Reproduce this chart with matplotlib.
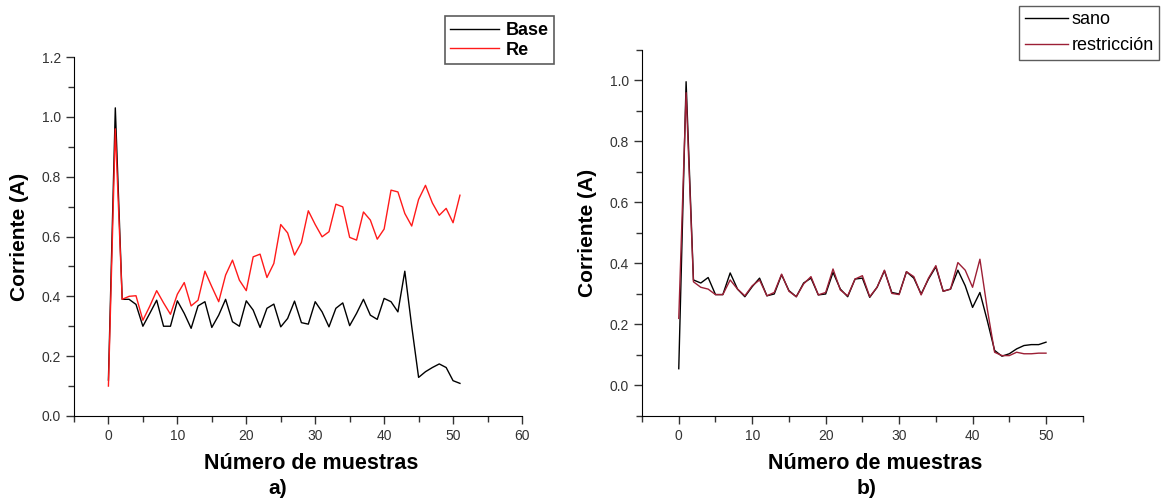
import matplotlib
matplotlib.use("Agg")
import matplotlib.pyplot as plt
from matplotlib.ticker import MultipleLocator

plt.rcParams["font.family"] = ["Liberation Sans", "DejaVu Sans"]

# Panel a) data
muestras_a = list(range(52))
base = [0.12, 1.03, 0.39, 0.39, 0.373, 0.30, 0.343, 0.387, 0.30, 0.30,
        0.385, 0.343, 0.293, 0.368, 0.382, 0.296, 0.337, 0.39, 0.315, 0.30,
        0.385, 0.354, 0.296, 0.36, 0.374, 0.298, 0.326, 0.384, 0.312, 0.307,
        0.382, 0.348, 0.298, 0.36, 0.378, 0.302, 0.343, 0.39, 0.337, 0.323,
        0.393, 0.382, 0.348, 0.484, 0.30, 0.129, 0.148, 0.162, 0.174, 0.162,
        0.118, 0.109]
re = [0.10, 0.96, 0.39, 0.40, 0.402, 0.32, 0.367, 0.419, 0.378, 0.34,
      0.407, 0.446, 0.368, 0.387, 0.484, 0.432, 0.382, 0.471, 0.521, 0.454,
      0.419, 0.532, 0.541, 0.463, 0.51, 0.64, 0.612, 0.538, 0.58, 0.686,
      0.64, 0.599, 0.616, 0.708, 0.699, 0.597, 0.588, 0.682, 0.655, 0.591,
      0.625, 0.755, 0.749, 0.677, 0.635, 0.724, 0.771, 0.712, 0.671, 0.694,
      0.646, 0.738]

# Panel b) data
muestras_b = list(range(51))
sano = [0.055, 0.996, 0.346, 0.336, 0.354, 0.298, 0.298, 0.369, 0.316, 0.291,
        0.324, 0.352, 0.294, 0.30, 0.363, 0.311, 0.291, 0.336, 0.352, 0.297,
        0.30, 0.371, 0.316, 0.291, 0.349, 0.352, 0.289, 0.322, 0.376, 0.305,
        0.30, 0.373, 0.352, 0.30, 0.349, 0.389, 0.309, 0.316, 0.378, 0.327,
        0.256, 0.305, 0.213, 0.115, 0.096, 0.104, 0.12, 0.131, 0.134, 0.134,
        0.142]
restriccion = [0.22, 0.96, 0.34, 0.322, 0.316, 0.298, 0.298, 0.346, 0.316, 0.294,
               0.327, 0.346, 0.294, 0.305, 0.365, 0.309, 0.291, 0.333, 0.357, 0.297,
               0.305, 0.382, 0.313, 0.294, 0.349, 0.36, 0.291, 0.322, 0.378, 0.302,
               0.298, 0.373, 0.357, 0.297, 0.352, 0.393, 0.309, 0.316, 0.403, 0.378,
               0.322, 0.414, 0.251, 0.109, 0.098, 0.098, 0.109, 0.104, 0.104, 0.106,
               0.106]

TICK_COLOR = "#333333"


def style_axes(ax):
    ax.spines["top"].set_visible(False)
    ax.spines["right"].set_visible(False)
    ax.tick_params(which="both", direction="out", labelsize=10,
                   labelcolor=TICK_COLOR, color="#333333")
    ax.tick_params(which="major", length=6, width=1)
    ax.tick_params(which="minor", length=4, width=1)
    ax.xaxis.set_major_locator(MultipleLocator(10))
    ax.xaxis.set_minor_locator(MultipleLocator(5))
    ax.yaxis.set_major_locator(MultipleLocator(0.2))
    ax.yaxis.set_minor_locator(MultipleLocator(0.1))
    ax.yaxis.set_major_formatter(plt.FormatStrFormatter("%.1f"))
    ax.set_xlabel("Número de muestras", fontsize=15.5, fontweight="bold", labelpad=7)
    ax.xaxis.label.set_x(0.53)
    ax.set_ylabel("Corriente (A)", fontsize=15, fontweight="bold", labelpad=9)


fig = plt.figure(figsize=(11.61, 4.98), dpi=100)

# a)
ax1 = fig.add_axes([0.0637, 0.1647, 0.3859, 0.7208])
ax1.plot(muestras_a, base, color="black", lw=1.0, label="Base")
ax1.plot(muestras_a, re, color="#ff1a1a", lw=1.0, label="Re")
ax1.set_xlim(-5, 60)
ax1.set_ylim(0, 1.2)
style_axes(ax1)
leg1 = ax1.legend(loc="upper left", bbox_to_anchor=(0.383, 0.967),
                  bbox_transform=fig.transFigure, fancybox=False,
                  prop={"size": 13, "weight": "bold"}, handlelength=2.7,
                  borderpad=0.3, labelspacing=0.15, handletextpad=0.4,
                  borderaxespad=0)
leg1.get_frame().set_edgecolor("#333333")
leg1.get_frame().set_linewidth(1.2)
fig.text(0.2395, 0.008, "a)", fontsize=15, fontweight="bold", ha="center")

# b)
ax2 = fig.add_axes([0.553, 0.1647, 0.3796, 0.7349])
ax2.plot(muestras_b, sano, color="black", lw=1.0, label="sano")
ax2.plot(muestras_b, restriccion, color="#9c1f35", lw=1.0, label="restricción")
ax2.set_xlim(-5, 55)
ax2.set_ylim(-0.1, 1.1)
style_axes(ax2)
leg2 = ax2.legend(loc="upper left", bbox_to_anchor=(0.878, 0.988),
                  bbox_transform=fig.transFigure, fancybox=False,
                  prop={"size": 13}, handlelength=2.4,
                  borderpad=0.3, labelspacing=0.5, handletextpad=0.2,
                  borderaxespad=0)
leg2.get_frame().set_edgecolor("#333333")
leg2.get_frame().set_linewidth(1.0)
fig.text(0.746, 0.008, "b)", fontsize=15, fontweight="bold", ha="center")

fig.savefig("out.png", dpi=100)
